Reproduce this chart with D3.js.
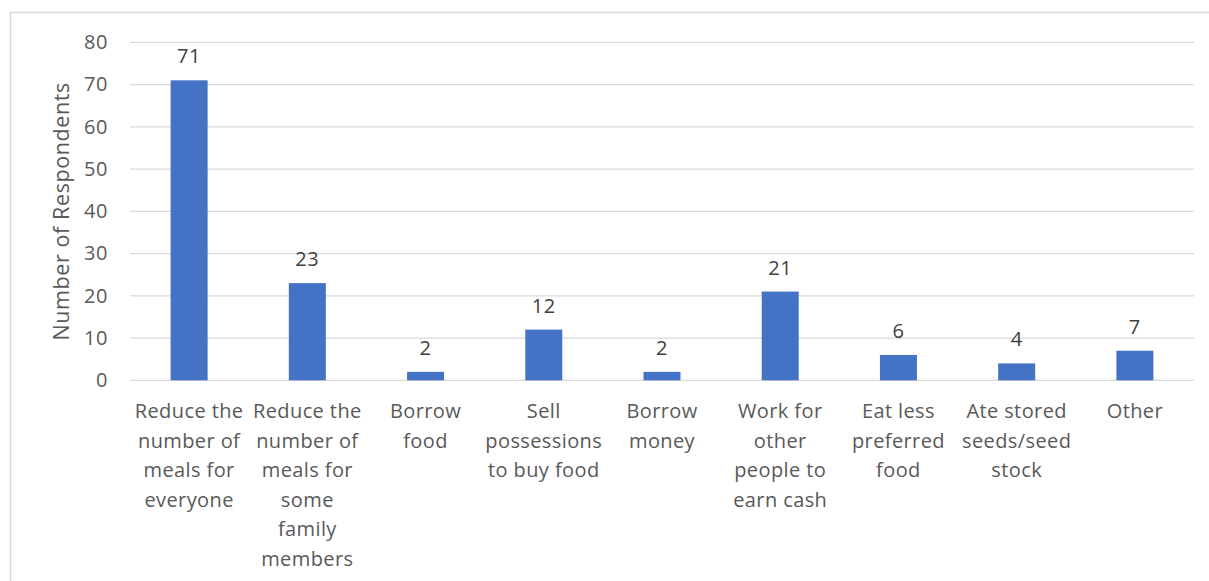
<!DOCTYPE html>
<html>
<head>
<meta charset="utf-8">
<script src="https://cdn.jsdelivr.net/npm/d3@7"></script>
<style>
  html, body { margin: 0; padding: 0; background: #fff; }
  svg { display: block; font-family: "Open Sans", sans-serif; }
</style>
</head>
<body>
<svg id="chart" width="1209" height="581"></svg>
<script>
// Coping strategies and respondent counts
const categories = [
  ["Reduce the", "number of", "meals for", "everyone"],
  ["Reduce the", "number of", "meals for", "some", "family", "members"],
  ["Borrow", "food"],
  ["Sell", "possessions", "to buy food"],
  ["Borrow", "money"],
  ["Work for", "other", "people to", "earn cash"],
  ["Eat less", "preferred", "food"],
  ["Ate stored", "seeds/seed", "stock"],
  ["Other"]
];
const values = [71, 23, 2, 12, 2, 21, 6, 4, 7];
const yTicks = [0, 10, 20, 30, 40, 50, 60, 70, 80];
const yTitle = "Number of Respondents";

const svg = d3.select("#chart");
const W = 1209, H = 581;
const plot = { left: 130, right: 1194, top: 42.3, bottom: 380.3 };

// chart frame
svg.append("rect")
  .attr("x", 10.5).attr("y", 12.5)
  .attr("width", W + 10).attr("height", H + 10)
  .attr("fill", "#fff").attr("stroke", "#d9d9d9").attr("stroke-width", 1.5);

const keys = categories.map((c, i) => i);
const x = d3.scaleBand().domain(keys).range([plot.left, plot.right]).paddingInner(0).paddingOuter(0);
const y = d3.scaleLinear().domain([0, 80]).range([plot.bottom, plot.top]);
const barW = 37;

// gridlines
svg.append("g").selectAll("line").data(yTicks).join("line")
  .attr("x1", plot.left).attr("x2", plot.right)
  .attr("y1", d => y(d)).attr("y2", d => y(d))
  .attr("stroke", "#d9d9d9").attr("stroke-width", 1.3);

// y axis tick labels
const yAxis = d3.axisLeft(y).tickValues(yTicks).tickSize(0).tickPadding(0);
const gy = svg.append("g").attr("transform", `translate(${plot.left - 22},0)`).call(yAxis);
gy.select(".domain").remove();
gy.selectAll("text")
  .attr("fill", "#595959").attr("font-size", 20).attr("letter-spacing", 0.6)
  .attr("font-family", "'Open Sans', sans-serif");

// y axis title
svg.append("text")
  .attr("transform", `translate(69,${(plot.top + plot.bottom) / 2}) rotate(-90)`)
  .attr("text-anchor", "middle")
  .attr("fill", "#595959").attr("font-size", 21.5).attr("letter-spacing", 0.6)
  .text(yTitle);

// bars
svg.append("g").selectAll("rect").data(values).join("rect")
  .attr("x", (d, i) => x(i) + x.bandwidth() / 2 - barW / 2)
  .attr("width", barW)
  .attr("y", d => y(d))
  .attr("height", d => y(0) - y(d))
  .attr("fill", "#4472c4");

// value labels
svg.append("g").selectAll("text").data(values).join("text")
  .attr("x", (d, i) => x(i) + x.bandwidth() / 2)
  .attr("y", d => y(d) - 17)
  .attr("text-anchor", "middle")
  .attr("fill", "#404040").attr("font-size", 20).attr("letter-spacing", 0.6)
  .text(d => d);

// category labels (multi-line)
const cat = svg.append("g").selectAll("text").data(categories).join("text")
  .attr("text-anchor", "middle")
  .attr("fill", "#595959").attr("font-size", 20).attr("letter-spacing", 0.4);
cat.each(function(lines, i) {
  const t = d3.select(this);
  lines.forEach((ln, k) => {
    t.append("tspan")
      .attr("x", x(i) + x.bandwidth() / 2)
      .attr("y", 418 + k * 29.5)
      .text(ln);
  });
});
</script>
</body>
</html>
